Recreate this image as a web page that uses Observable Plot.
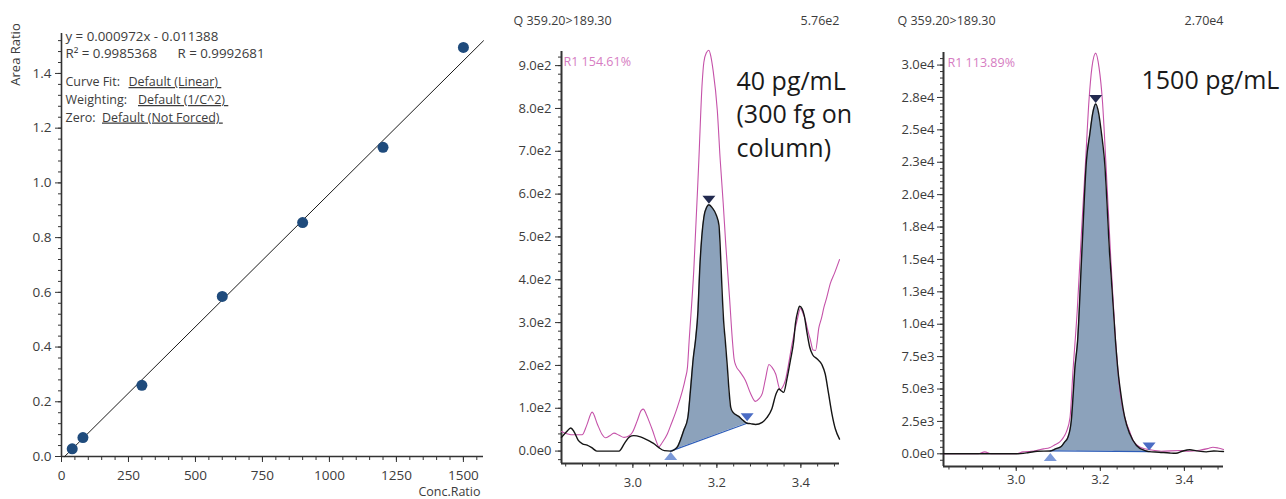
<!DOCTYPE html>
<html><head><meta charset="utf-8">
<script src="https://cdn.jsdelivr.net/npm/d3@7"></script>
<script src="https://cdn.jsdelivr.net/npm/@observablehq/plot@0.6"></script>
<style>
html,body{margin:0;padding:0;background:#fff;}
#root{position:relative;width:1286px;height:499px;overflow:hidden;background:#fff;}
#root svg{position:absolute;top:0;overflow:visible;}
</style></head><body><div id="root"></div>
<script>
// ---------- Calibration curve ----------
const calConc = [40, 80, 300, 600, 900, 1200, 1500];
const calArea = [0.028, 0.069, 0.26, 0.585, 0.855, 1.13, 1.495];
const calSlope = 0.000972;
const calIntercept = -0.011388;
const calXTicks = [0, 250, 500, 750, 1000, 1250, 1500];
const calXLabels = ["0", "250", "500", "750", "1000", "1250", "1500"];
const calYTicks = [0, 0.2, 0.4, 0.6, 0.8, 1.0, 1.2, 1.4];
const calYLabels = ["0.0", "0.2", "0.4", "0.6", "0.8", "1.0", "1.2", "1.4"];
const calEquation = "y = 0.000972x - 0.011388";
const calR2 = "R² = 0.9985368";
const calR = "R = 0.9992681";
const calSettingNames = ["Curve Fit:", "Weighting:", "Zero:"];
const calSettingValues = ["Default (Linear)\u00a0", "Default (1/C^2)\u00a0", "Default (Not Forced)\u00a0"];
const calXTitle = "Conc.Ratio";
const calYTitle = "Area Ratio";

// ---------- Chromatogram common ----------
const chromXTicks = [3.0, 3.2, 3.4];
const chromXLabels = ["3.0", "3.2", "3.4"];
const chromTitle = "Q 359.20>189.30";

// ---------- Chromatogram 1 (40 pg/mL) ----------
const p2Max = "5.76e2";
const p2Ratio = "R1 154.61%";
const p2Label = "40 pg/mL\n(300 fg on\ncolumn)";
const p2YTicks = [0, 100, 200, 300, 400, 500, 600, 700, 800, 900];
const p2YLabels = ["0.0e0", "1.0e2", "2.0e2", "3.0e2", "4.0e2", "5.0e2", "6.0e2", "7.0e2", "8.0e2", "9.0e2"];
const p2BlackX = [2.830,2.842,2.852,2.860,2.870,2.880,2.891,2.902,2.914,2.940,2.967,2.980,2.992,3.002,3.018,3.030,3.042,3.052,3.062,3.075,3.090,3.098,3.106,3.114,3.121,3.131,3.137,3.144,3.149,3.155,3.159,3.164,3.169,3.176,3.181,3.189,3.199,3.205,3.208,3.212,3.216,3.220,3.225,3.229,3.233,3.238,3.252,3.262,3.272,3.280,3.292,3.308,3.319,3.331,3.341,3.348,3.353,3.359,3.367,3.375,3.383,3.387,3.393,3.397,3.403,3.408,3.415,3.421,3.428,3.439,3.450,3.458,3.466,3.474,3.482,3.492];
const p2BlackY = [32,45,54,45,25,17,14,8,0,0,0,18,33,36,33,28,22,16,8,1,0,3,10,28,48,79,141,219,258,328,422,500,546,570,575,568,550,527,476,383,305,258,196,141,102,91,81,72,65,64,62,67,78,99,134,145,141,137,169,211,258,297,328,338,332,317,274,243,225,215,202,180,134,87,52,28];
const p2PinkX = [2.830,2.845,2.860,2.879,2.890,2.903,2.915,2.926,2.935,2.945,2.955,2.967,2.979,2.990,2.999,3.010,3.020,3.025,3.031,3.038,3.048,3.056,3.062,3.070,3.082,3.092,3.102,3.110,3.118,3.125,3.130,3.134,3.145,3.157,3.165,3.169,3.175,3.181,3.186,3.191,3.201,3.208,3.215,3.221,3.230,3.237,3.241,3.245,3.255,3.268,3.280,3.292,3.300,3.308,3.316,3.324,3.331,3.340,3.351,3.357,3.363,3.372,3.379,3.391,3.399,3.405,3.411,3.417,3.423,3.429,3.435,3.443,3.449,3.455,3.462,3.470,3.480,3.492];
const p2PinkY = [46,40,38,38,60,91,64,40,31,36,42,37,32,35,44,70,95,98,88,71,45,22,10,20,40,65,91,115,141,170,196,258,422,678,860,908,930,936,920,889,796,679,580,485,360,258,215,200,185,165,135,116,122,134,170,202,196,180,143,150,165,210,250,305,333,322,305,280,258,236,235,289,310,336,360,391,415,447];
const p2PeakStart = [3.090, 0];
const p2PeakEnd = [3.272, 65];
const p2Apex = [3.181, 575];

// ---------- Chromatogram 2 (1500 pg/mL) ----------
const p3Max = "2.70e4";
const p3Ratio = "R1 113.89%";
const p3Label = "1500 pg/mL";
const p3YTicks = [0, 2500, 5000, 7500, 10000, 12500, 15000, 17500, 20000, 22500, 25000, 27500, 30000];
const p3YLabels = ["0.0e0", "2.5e3", "5.0e3", "7.5e3", "1.0e4", "1.3e4", "1.5e4", "1.8e4", "2.0e4", "2.3e4", "2.5e4", "2.8e4", "3.0e4"];
const p3BlackX = [2.827,2.900,2.950,3.000,3.030,3.050,3.081,3.095,3.107,3.115,3.123,3.131,3.135,3.139,3.146,3.156,3.167,3.175,3.182,3.189,3.196,3.203,3.210,3.222,3.236,3.242,3.250,3.258,3.270,3.286,3.306,3.316,3.340,3.365,3.380,3.395,3.413,3.429,3.452,3.470,3.484,3.493];
const p3BlackY = [0,0,0,0,100,200,220,400,560,900,1280,2570,4360,6420,8735,15500,22620,24670,26300,27000,26300,24670,22620,15500,8735,6420,4360,2820,1540,640,250,170,120,60,40,200,310,230,150,220,190,180];
const p3PinkX = [2.827,2.910,2.925,2.940,3.000,3.016,3.035,3.048,3.065,3.079,3.092,3.103,3.112,3.119,3.128,3.135,3.145,3.155,3.165,3.173,3.180,3.189,3.197,3.205,3.213,3.225,3.238,3.248,3.260,3.270,3.278,3.290,3.298,3.320,3.345,3.389,3.410,3.436,3.455,3.468,3.480,3.493];
const p3PinkY = [0,0,150,0,0,150,200,260,380,460,700,900,1250,1670,2820,6420,11000,17000,22614,27240,29800,30920,29800,27240,22614,15000,8000,4500,2600,1700,1030,600,460,300,200,250,200,280,400,510,450,330];
const p3PeakStart = [3.081, 220];
const p3PeakEnd = [3.316, 170];
const p3Apex = [3.189, 27000];

// ---------- styling ----------
const FONT = "'Open Sans', 'Noto Sans', sans-serif";
const AXIS = "#333";
const TXT = "#3c3c3c";
const PINK = "#c552a9";
const PINK_TXT = "#d67cc2";
const FILL = "#8ca2bb";
const BASE = "#2e5db8";

const triDown = {draw(ctx, size) { const r = Math.sqrt(size / Math.PI); ctx.moveTo(-1.3*r, -0.8*r); ctx.lineTo(1.3*r, -0.8*r); ctx.lineTo(0, 0.8*r); ctx.closePath(); }};
const triUp = {draw(ctx, size) { const r = Math.sqrt(size / Math.PI); ctx.moveTo(-1.3*r, 0.8*r); ctx.lineTo(1.3*r, 0.8*r); ctx.lineTo(0, -0.8*r); ctx.closePath(); }};

const zip = (xs, ys) => xs.map((x, i) => ({x, y: ys[i]}));
const labelOf = (ticks, labels) => d => { const i = ticks.findIndex(t => Math.abs(t - d) < 1e-9); return i < 0 ? "" : labels[i]; };
const txt = (s, o) => Plot.text([s], {text: d => d, frameAnchor: "top-left", textAnchor: "start", lineAnchor: "middle", fill: TXT, ...o});

function peakArea(trace, start, end) {
  const pts = [{x: start[0], y: start[1]}, ...trace.filter(p => p.x > start[0] && p.x < end[0]), {x: end[0], y: end[1]}];
  return pts.map(p => ({x: p.x, y: p.y, b: start[1] + (end[1] - start[1]) * (p.x - start[0]) / (end[0] - start[0])}));
}

const root = document.getElementById("root");
function place(svg, left) { svg.style.left = left + "px"; root.appendChild(svg); return svg; }

// ---------- Panel 1: calibration ----------
{
  const xDom = [0, 1575];
  const fit = [{x: -calIntercept / calSlope}, {x: xDom[1]}].map(p => ({x: p.x, y: calSlope * p.x + calIntercept}));
  const pts = zip(calConc, calArea);
  const nameDx = [4, 4, 4], valueDx = [67, 76.5, 40.5], rowDy = [48.5, 66.5, 84];
  const svg = Plot.plot({
    width: 490, height: 499,
    marginLeft: 61, marginRight: 7, marginTop: 33, marginBottom: 43,
    x: {domain: xDom}, y: {domain: [0, 1.546]},
    style: {fontFamily: FONT, fontSize: "13.5px", color: TXT, background: "transparent"},
    marks: [
      Plot.axisX(d3.range(0, 1551, 50), {tickSize: 4, tickFormat: () => "", label: null, stroke: AXIS}),
      Plot.axisX(calXTicks, {tickSize: 6, tickPadding: 8, tickFormat: labelOf(calXTicks, calXLabels), label: null, stroke: AXIS}),
      Plot.axisY(d3.range(0, 1.541, 0.04), {tickSize: 3, tickFormat: () => "", label: null, stroke: AXIS}),
      Plot.axisY(calYTicks, {tickSize: 6, tickPadding: 4, tickFormat: labelOf(calYTicks, calYLabels), label: null, stroke: AXIS}),
      Plot.ruleX([0], {stroke: AXIS, strokeWidth: 1.6}),
      Plot.ruleY([0], {stroke: AXIS, strokeWidth: 1.6}),
      Plot.line(fit, {x: "x", y: "y", stroke: "#1a1a1a", strokeWidth: 1}),
      Plot.dot(pts, {x: "x", y: "y", r: 5.5, fill: "#1f4b7c"}),
      txt(calYTitle, {rotate: -90, dx: -46, dy: 21, textAnchor: "middle", fontSize: 13}),
      Plot.text([calXTitle], {text: d => d, frameAnchor: "bottom-right", dx: -3, dy: 35, textAnchor: "end", lineAnchor: "middle", fontSize: 12.5, fill: TXT}),
      txt(calEquation, {dx: 4, dy: 3, fontSize: 13.3}),
      txt(calR2, {dx: 4, dy: 20, fontSize: 13.3}),
      txt(calR, {dx: 116, dy: 20, fontSize: 13.3}),
      ...calSettingNames.map((s, i) => txt(s, {dx: nameDx[i], dy: rowDy[i], fontSize: 12.5})),
      ...calSettingValues.map((s, i) => txt(s, {dx: valueDx[i], dy: rowDy[i], fontSize: 12.5}))
    ]
  });
  d3.select(svg).selectAll("text").filter(function() { return calSettingValues.includes(this.textContent); })
    .attr("text-decoration", "underline");
  place(svg, 0);
}

// ---------- chromatogram builder ----------
function chromatogram(cfg) {
  const black = zip(cfg.blackX, cfg.blackY);
  const pink = zip(cfg.pinkX, cfg.pinkY);
  const area = peakArea(black, cfg.start, cfg.end);
  const [yMin, yMax] = cfg.yDomain;
  return Plot.plot({
    width: cfg.width, height: 499,
    marginLeft: cfg.ml, marginRight: cfg.mr, marginTop: cfg.mt, marginBottom: cfg.mb,
    x: {domain: cfg.xDomain}, y: {domain: cfg.yDomain},
    style: {fontFamily: FONT, fontSize: "13px", color: TXT, background: "transparent"},
    marks: [
      Plot.axisX(d3.range(2.84, 3.49, 0.04), {tickSize: 3.5, tickFormat: () => "", label: null, stroke: AXIS}),
      Plot.axisX(chromXTicks, {tickSize: 5, tickPadding: cfg.xPad, tickFormat: labelOf(chromXTicks, chromXLabels), label: null, stroke: AXIS}),
      Plot.axisY(d3.range(cfg.minorStep * Math.ceil(yMin / cfg.minorStep), yMax, cfg.minorStep), {tickSize: 3, tickFormat: () => "", label: null, stroke: AXIS}),
      Plot.axisY(cfg.yTicks, {tickSize: 6, tickPadding: cfg.yPad, tickFormat: labelOf(cfg.yTicks, cfg.yLabels), label: null, stroke: AXIS}),
      Plot.ruleX([cfg.xDomain[0]], {stroke: AXIS, strokeWidth: 2}),
      Plot.ruleY([yMin], {stroke: AXIS, strokeWidth: 2}),
      Plot.areaY(area, {x: "x", y1: "b", y2: "y", fill: FILL, curve: "monotone-x"}),
      Plot.line(pink, {x: "x", y: "y", stroke: PINK, strokeWidth: 1.1, curve: "monotone-x"}),
      Plot.line([cfg.start, cfg.end], {x: d => d[0], y: d => d[1], stroke: BASE, strokeWidth: 1.3}),
      Plot.line(black, {x: "x", y: "y", stroke: "#151515", strokeWidth: 1.4, curve: "monotone-x"}),
      Plot.dot([cfg.apex], {x: d => d[0], y: d => d[1], dy: -5, r: 5, symbol: triDown, fill: "#222a4f", stroke: null}),
      Plot.dot([cfg.start], {x: d => d[0], y: d => d[1], dy: cfg.startDy, r: 5, symbol: triUp, fill: "#7a98d8", stroke: null}),
      Plot.dot([cfg.end], {x: d => d[0], y: d => d[1], dy: cfg.endDy, r: 5, symbol: triDown, fill: "#4a6cc4", stroke: null}),
      txt(chromTitle, {dx: cfg.titleDx, dy: cfg.titleDy, fontSize: 12.5}),
      Plot.text([cfg.max], {text: d => d, frameAnchor: "top-right", textAnchor: "end", lineAnchor: "middle", dx: 0, dy: cfg.titleDy, fontSize: 12.5, fill: TXT}),
      txt(cfg.ratio, {dx: cfg.ratioDx, dy: 10, fontSize: 12.5, fill: PINK_TXT}),
      txt(cfg.label, {dx: cfg.labelDx, dy: cfg.labelDy, fontSize: 25, lineHeight: 1.34, fill: "#1a1a1a"})
    ]
  });
}

// ---------- Panel 2 ----------
place(chromatogram({
  width: 380, ml: 71, mr: 31, mt: 51, mb: 36,
  xDomain: [2.830, 3.492], yDomain: [-29, 933],
  yTicks: p2YTicks, yLabels: p2YLabels, minorStep: 20, yPad: 4, xPad: 9,
  blackX: p2BlackX, blackY: p2BlackY, pinkX: p2PinkX, pinkY: p2PinkY,
  start: p2PeakStart, end: p2PeakEnd, apex: p2Apex, startDy: 5, endDy: -6,
  max: p2Max, ratio: p2Ratio, label: p2Label,
  titleDx: -48, titleDy: -31, ratioDx: 2, labelDx: 175, labelDy: 61
}), 490);

// ---------- Panel 3 ----------
place(chromatogram({
  width: 416, ml: 73, mr: 63, mt: 52, mb: 33,
  xDomain: [2.827, 3.493], yDomain: [-980, 30970],
  yTicks: p3YTicks, yLabels: p3YLabels, minorStep: 500, yPad: 3, xPad: 3,
  blackX: p3BlackX, blackY: p3BlackY, pinkX: p3PinkX, pinkY: p3PinkY,
  start: p3PeakStart, end: p3PeakEnd, apex: p3Apex, startDy: 6, endDy: -5,
  max: p3Max, ratio: p3Ratio, label: p3Label,
  titleDx: -46, titleDy: -32, ratioDx: 4, labelDx: 198, labelDy: 26
}), 870);
</script></body></html>
